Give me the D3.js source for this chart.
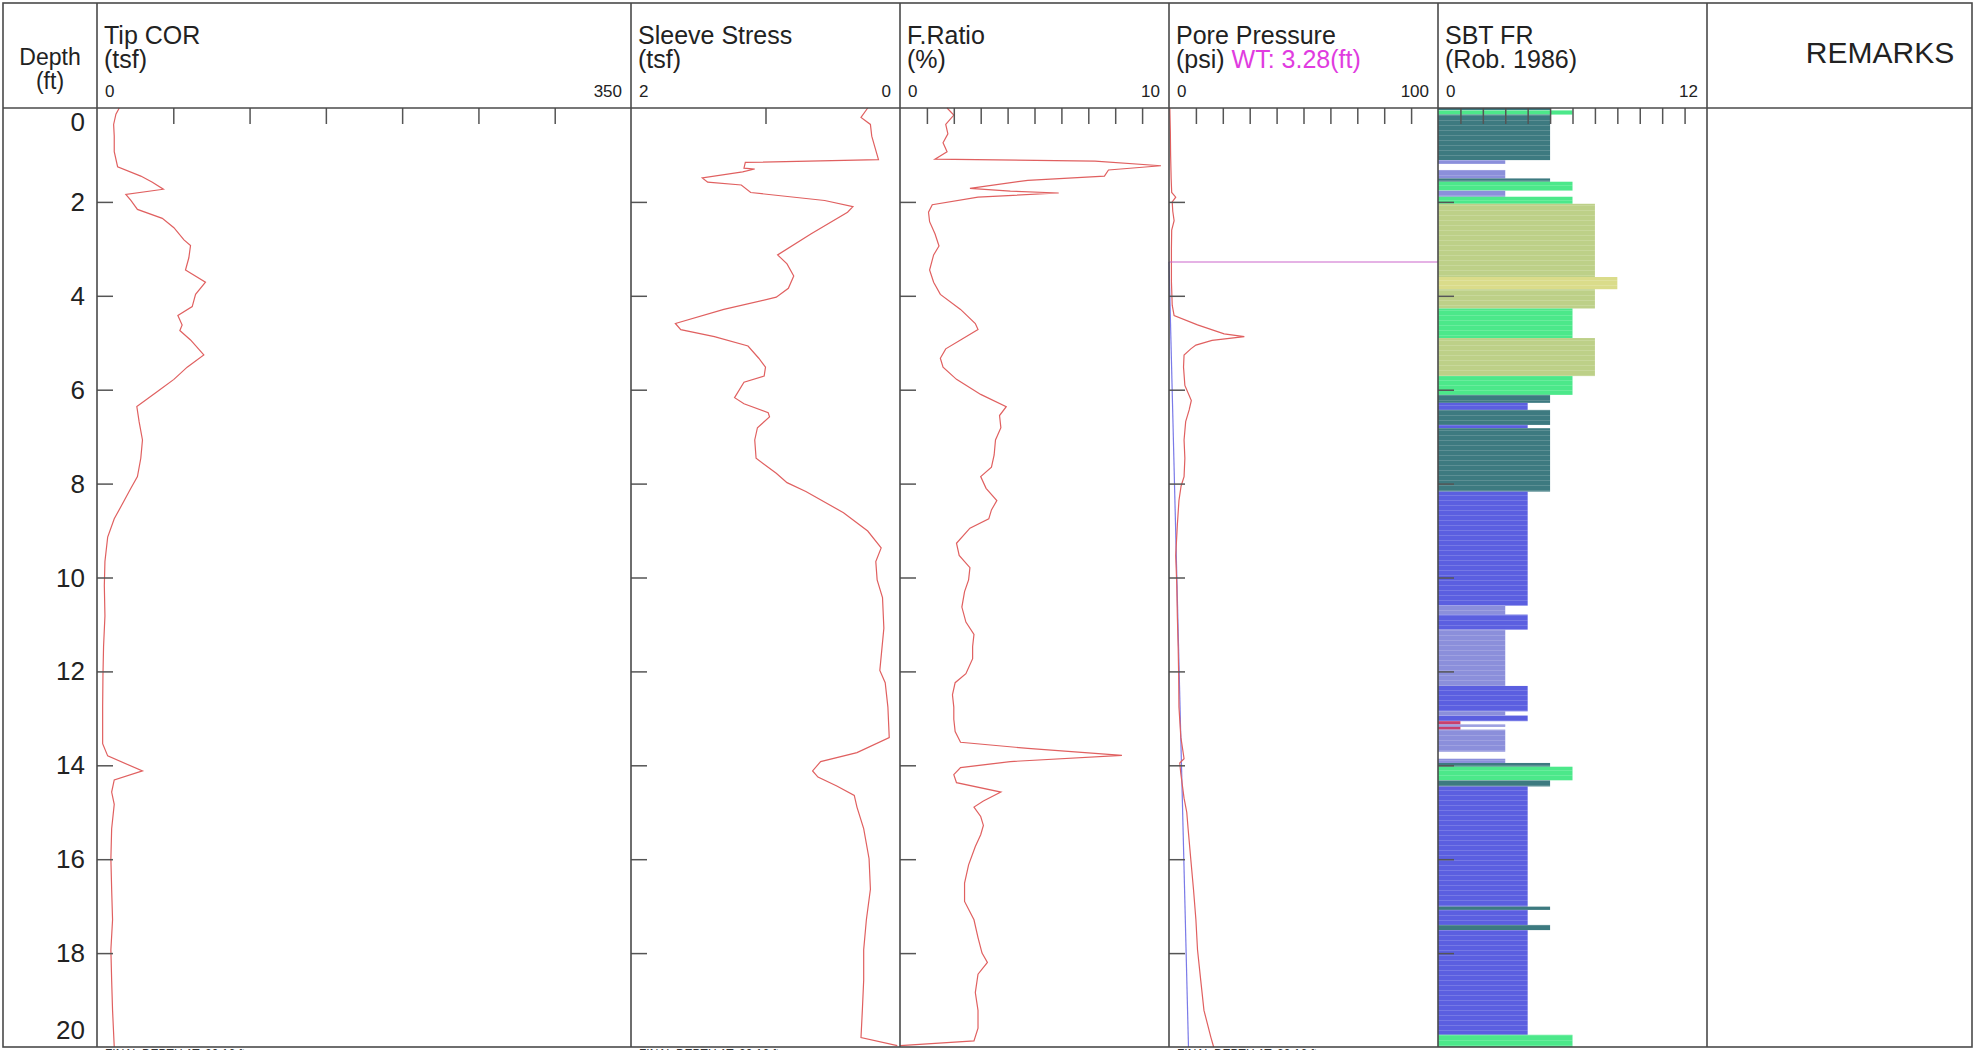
<!DOCTYPE html>
<html>
<head>
<meta charset="utf-8">
<script src="https://cdnjs.cloudflare.com/ajax/libs/d3/7.8.5/d3.min.js"></script>
<style>
body { margin: 0; background: #fff; }
svg text { font-family: "Liberation Sans", Arial, sans-serif; fill: #222; }
</style>
</head>
<body>
<div class="graph"></div>
<script>
// depth axis (ft)
var depthTicks = [0, 2, 4, 6, 8, 10, 12, 14, 16, 18, 20];

// Tip COR (tsf)
var tipDepth = [0, 0.13, 0.35, 0.6, 0.93, 1.25, 1.45, 1.58, 1.73, 1.84, 1.97, 2.16, 2.35, 2.55, 2.81, 2.93, 3.19, 3.45, 3.71, 3.97, 4.23, 4.42, 4.62, 4.74, 4.94, 5.26, 5.52, 5.78, 6.04, 6.36, 6.68, 7.07, 7.46, 7.85, 8.1, 8.43, 8.75, 9.14, 9.66, 10.17, 10.82, 11.47, 12.1, 12.76, 13.54, 13.8, 14.12, 14.31, 14.57, 14.83, 15.35, 15.99, 16.64, 17.29, 17.93, 18.58, 19.22, 20];
var tipCOR = [14.6, 12.4, 10.9, 11.3, 11.3, 13.5, 28.7, 36.3, 43.5, 18.9, 22.2, 26.5, 42.8, 50.4, 57, 61.3, 60.2, 58, 71.1, 64.6, 62.4, 53, 55.8, 54.3, 61.3, 70, 59.1, 50.4, 39.6, 26.1, 27.6, 29.8, 28.7, 26.5, 22.2, 16.7, 11.3, 7, 5.2, 4.8, 5.2, 4.3, 3.9, 3.7, 3.7, 7, 29.8, 11.3, 9.6, 11.3, 9.6, 9.1, 9.6, 10.2, 9.1, 9.6, 10.2, 11.3];

// Sleeve Stress (tsf)
var sleeveDepth = [0, 0.2, 0.35, 0.6, 0.8, 1.1, 1.16, 1.28, 1.3, 1.36, 1.49, 1.58, 1.64, 1.8, 1.97, 2.1, 2.22, 2.68, 3.13, 3.32, 3.58, 3.84, 4.03, 4.29, 4.59, 4.72, 4.87, 5.07, 5.33, 5.52, 5.71, 5.84, 6.17, 6.3, 6.49, 6.58, 6.81, 7.07, 7.46, 7.78, 7.98, 8.17, 8.62, 9.01, 9.37, 9.66, 10.05, 10.43, 11.08, 11.98, 12.24, 12.76, 13.41, 13.73, 13.92, 14.12, 14.25, 14.44, 14.64, 14.89, 15.35, 15.99, 16.64, 17.29, 17.93, 18.58, 19.22, 19.8, 19.97];
var sleeveStress = [0.24, 0.29, 0.22, 0.21, 0.19, 0.16, 1.15, 1.16, 1.08, 1.17, 1.47, 1.43, 1.18, 1.11, 0.56, 0.35, 0.39, 0.66, 0.91, 0.84, 0.79, 0.83, 0.92, 1.31, 1.67, 1.63, 1.38, 1.13, 1.05, 1.0, 1.01, 1.16, 1.23, 1.16, 0.98, 0.97, 1.06, 1.08, 1.07, 0.92, 0.84, 0.7, 0.42, 0.24, 0.14, 0.18, 0.17, 0.13, 0.12, 0.15, 0.11, 0.09, 0.08, 0.32, 0.59, 0.65, 0.61, 0.47, 0.34, 0.32, 0.27, 0.23, 0.22, 0.25, 0.27, 0.27, 0.28, 0.29, 0.02];

// F.Ratio (%)
var frDepth = [0, 0.15, 0.35, 0.55, 0.74, 0.93, 1.09, 1.13, 1.23, 1.32, 1.45, 1.54, 1.71, 1.77, 1.81, 1.9, 2.06, 2.22, 2.42, 2.68, 2.94, 3.13, 3.45, 3.71, 3.97, 4.29, 4.59, 4.72, 4.94, 5.13, 5.33, 5.52, 5.78, 6.1, 6.36, 6.55, 6.81, 7.07, 7.39, 7.65, 7.85, 8.1, 8.36, 8.56, 8.75, 8.95, 9.27, 9.53, 9.79, 10.05, 10.3, 10.63, 10.95, 11.21, 11.47, 11.73, 12.05, 12.24, 12.5, 12.76, 13.02, 13.28, 13.51, 13.64, 13.79, 13.92, 14.05, 14.2, 14.37, 14.57, 14.76, 14.89, 15.09, 15.28, 15.48, 15.73, 16.12, 16.51, 16.9, 17.29, 17.67, 18.0, 18.2, 18.45, 18.84, 19.22, 19.6, 19.87, 19.97];
var fRatio = [1.75, 2.0, 1.7, 1.78, 1.6, 1.75, 1.3, 7.25, 9.7, 7.75, 7.6, 4.75, 2.6, 4.1, 5.9, 2.9, 1.2, 1.06, 1.1, 1.3, 1.45, 1.25, 1.1, 1.25, 1.5, 2.25, 2.8, 2.9, 2.25, 1.7, 1.5, 1.6, 2.1, 3.0, 3.95, 3.7, 3.75, 3.55, 3.5, 3.4, 3.0, 3.2, 3.6, 3.4, 3.3, 2.6, 2.1, 2.2, 2.6, 2.55, 2.4, 2.3, 2.45, 2.75, 2.7, 2.7, 2.45, 2.05, 1.95, 2.0, 2.0, 2.05, 2.25, 4.75, 8.25, 4.1, 2.25, 2.0, 2.1, 3.75, 3.1, 2.75, 3.0, 3.1, 3.0, 2.8, 2.55, 2.4, 2.4, 2.75, 2.9, 3.05, 3.25, 2.9, 2.8, 2.9, 2.9, 2.75, 0];

// Pore Pressure (psi)
var poreDepth = [0, 0.5, 1.0, 1.5, 1.8, 1.9, 2.0, 2.2, 2.4, 2.6, 3.0, 3.7, 4.2, 4.42, 4.62, 4.81, 4.87, 4.95, 5.05, 5.13, 5.26, 5.52, 5.91, 6.23, 6.43, 6.68, 7.07, 7.46, 7.85, 8.05, 8.36, 8.88, 9.53, 10.17, 10.82, 11.47, 12.1, 12.76, 13.4, 13.86, 13.95, 14.18, 14.7, 15.0, 15.35, 16.0, 16.64, 17.29, 17.93, 18.58, 19.22, 19.8, 20];
var porePressure = [0.3, 0.5, 0.6, 0.8, 1.0, 2.5, 1.2, 1.4, 1.9, 1.0, 0.9, 0.9, 1.2, 1.9, 10.6, 20.5, 28, 16, 10, 8.1, 5.6, 5.4, 5.9, 8.3, 7.5, 6.2, 5.6, 5.9, 5.6, 4.5, 3.7, 3.1, 2.5, 2.9, 3.1, 3.4, 3.6, 3.7, 4.4, 5.6, 4.0, 4.4, 5.6, 6.6, 7.1, 8.1, 9.1, 10.0, 10.6, 11.8, 13.0, 15.6, 16.6];

// water table and hydrostatic line
var waterTable = 3.28;
var hydroDepth = [3.28, 20];
var hydroPsi = [0, 7.24];

// SBT FR (Robertson 1986) zones
var sbtTop    = [0, 0.05, 0.14, 1.11, 1.32, 1.5, 1.57, 1.76, 1.89, 2.04, 3.6, 3.86, 4.27, 4.9, 5.71, 6.11, 6.28, 6.43, 6.75, 6.82, 8.17, 10.6, 10.79, 11.11, 12.31, 12.85, 12.94, 13.06, 13.13, 13.18, 13.24, 13.86, 13.95, 14.03, 14.32, 14.45, 17.01, 17.08, 17.4, 17.51, 19.74];
var sbtBottom = [0.05, 0.14, 1.11, 1.19, 1.5, 1.57, 1.76, 1.89, 2.04, 3.6, 3.86, 4.27, 4.9, 5.71, 6.11, 6.28, 6.43, 6.75, 6.82, 8.17, 10.6, 10.79, 11.11, 12.31, 12.85, 12.94, 13.06, 13.13, 13.18, 13.24, 13.71, 13.95, 14.03, 14.32, 14.45, 17.01, 17.08, 17.4, 17.51, 19.74, 20];
var sbtZone   = [5, 6, 5, 3, 3, 5, 6, 3, 6, 7, 8, 7, 6, 7, 6, 5, 4, 5, 4, 5, 4, 3, 4, 3, 4, 3, 4, 1, 3, 1, 3, 3, 5, 6, 5, 4, 5, 4, 5, 4, 6];

var zoneColours = ["#ffffff", "#c8406e", "#a0783c", "#8b8fdb", "#5b5fe0", "#3d7a80", "#4ce88a", "#bdd088", "#dadc8a", "#e8c070", "#a0a0a0", "#808080", "#d0a080"];

var width = 1975, height = 1050;
var plotTop = 108, plotBottom = 1047;
var edges = [3, 97, 631, 900, 1169, 1438, 1707, 1972];

var tracks = [
	{ name: "Tip COR", unit: "(tsf)", dom: [0, 350], ticks: [50, 100, 150, 200, 250, 300], lo: "0", hi: "350" },
	{ name: "Sleeve Stress", unit: "(tsf)", dom: [2, 0], ticks: [1], lo: "2", hi: "0" },
	{ name: "F.Ratio", unit: "(%)", dom: [0, 10], ticks: d3.range(1, 10), lo: "0", hi: "10" },
	{ name: "Pore Pressure", unit: "(psi) ", dom: [0, 100], ticks: d3.range(10, 100, 10), lo: "0", hi: "100" },
	{ name: "SBT FR", unit: "(Rob. 1986)", dom: [0, 12], ticks: d3.range(1, 12), lo: "0", hi: "12" }
];

var svg = d3.select(".graph").append("svg").attr("width", width).attr("height", height);

var y = d3.scaleLinear().domain([0, 20]).range([plotTop, plotBottom]);

tracks.forEach(function (t, i) {
	t.x = d3.scaleLinear().domain(t.dom).range([edges[i + 1], edges[i + 2]]);
});

// row stripes seen in the SBT bars
var defs = svg.append("defs");
var pat = defs.append("pattern").attr("id", "rows").attr("patternUnits", "userSpaceOnUse").attr("width", 10).attr("height", 5);
pat.append("rect").attr("width", 10).attr("height", 1).style("fill", "#fff").style("opacity", 0.16);

// SBT bars
var sbt = tracks[4];
var sbtData = sbtZone.map(function (z, i) { return { z: z, t: sbtTop[i], b: sbtBottom[i] }; });
var bars = svg.append("g");
bars.selectAll("rect.zone").data(sbtData).enter().append("rect").attr("class", "zone")
	.attr("x", sbt.x(0))
	.attr("y", function (d) { return y(d.t); })
	.attr("width", function (d) { return sbt.x(d.z) - sbt.x(0); })
	.attr("height", function (d) { return y(d.b) - y(d.t); })
	.style("fill", function (d) { return zoneColours[d.z]; });
bars.selectAll("rect.rows").data(sbtData).enter().append("rect").attr("class", "rows")
	.attr("x", sbt.x(0))
	.attr("y", function (d) { return y(d.t); })
	.attr("width", function (d) { return sbt.x(d.z) - sbt.x(0); })
	.attr("height", function (d) { return y(d.b) - y(d.t); })
	.style("fill", "url(#rows)");

// curves
function curve(track, depths, vals, colour, w) {
	var pts = depths.map(function (d, i) { return [d, vals[i]]; });
	var line = d3.line().x(function (p) { return track.x(p[1]); }).y(function (p) { return y(p[0]); });
	svg.append("path").datum(pts).attr("d", line)
		.style("fill", "none").style("stroke", colour).style("stroke-width", w || 1.2);
}
curve(tracks[0], tipDepth, tipCOR, "#e06060");
curve(tracks[1], sleeveDepth, sleeveStress, "#e06060");
curve(tracks[2], frDepth, fRatio, "#e06060");
curve(tracks[3], hydroDepth, hydroPsi, "#7a7ae8", 1.2);
curve(tracks[3], poreDepth, porePressure, "#e06060");

// water table
svg.append("line")
	.attr("x1", tracks[3].x(0)).attr("x2", tracks[3].x(100))
	.attr("y1", y(waterTable)).attr("y2", y(waterTable))
	.style("stroke", "#cc66cc").style("stroke-width", 1.2);

// ticks
tracks.forEach(function (t, i) {
	var top = svg.append("g").attr("transform", "translate(0," + plotTop + ")")
		.call(d3.axisBottom(t.x).tickValues(t.ticks).tickSize(16).tickFormat(""));
	top.select(".domain").remove();
	top.selectAll("line").style("stroke", "#555").style("stroke-width", 1.5);

	var left = svg.append("g").attr("transform", "translate(" + edges[i + 1] + ",0)")
		.call(d3.axisRight(y).tickValues(depthTicks.slice(1, -1)).tickSize(16).tickFormat(""));
	left.select(".domain").remove();
	left.selectAll("line").style("stroke", "#555").style("stroke-width", 1.5);
});

// frame
var frame = svg.append("g").style("stroke", "#4a4a4a").style("stroke-width", 1.6).style("fill", "none");
frame.append("rect").attr("x", edges[0]).attr("y", 3).attr("width", edges[7] - edges[0]).attr("height", plotBottom - 3);
frame.append("line").attr("x1", edges[0]).attr("x2", edges[7]).attr("y1", plotTop).attr("y2", plotTop);
edges.slice(1, 7).forEach(function (e) {
	frame.append("line").attr("x1", e).attr("x2", e).attr("y1", 3).attr("y2", plotBottom);
});

// header texts
var hdr = svg.append("g");
hdr.append("text").attr("x", 50).attr("y", 65).attr("text-anchor", "middle").style("font-size", "23px").text("Depth");
hdr.append("text").attr("x", 50).attr("y", 89).attr("text-anchor", "middle").style("font-size", "23px").text("(ft)");
tracks.forEach(function (t, i) {
	var l = edges[i + 1], r = edges[i + 2];
	hdr.append("text").attr("x", l + 7).attr("y", 44).style("font-size", "25px").text(t.name);
	var u = hdr.append("text").attr("x", l + 7).attr("y", 68).style("font-size", "25px").text(t.unit);
	if (i == 3) u.append("tspan").style("fill", "#e03ce0").text("WT: " + waterTable + "(ft)");
	hdr.append("text").attr("x", l + 8).attr("y", 97).style("font-size", "17px").text(t.lo);
	hdr.append("text").attr("x", r - 9).attr("y", 97).attr("text-anchor", "end").style("font-size", "17px").text(t.hi);
});
hdr.append("text").attr("x", 1880).attr("y", 63).attr("text-anchor", "middle").style("font-size", "30px").text("REMARKS");

// depth labels
svg.selectAll("text.depth").data(depthTicks).enter().append("text").attr("class", "depth")
	.attr("x", 85)
	.attr("y", function (d) { return Math.min(Math.max(y(d), plotTop + 14), plotBottom - 17) + 9; })
	.attr("text-anchor", "end").style("font-size", "26px")
	.text(function (d) { return d; });

// final depth notes under the frame
[1, 2, 4].forEach(function (i) {
	svg.append("text").attr("x", edges[i] + 8).attr("y", 1058).style("font-size", "12px").style("fill", "#333")
		.text("FINAL DEPTH AT: 20.16 ft");
});
</script>
</body>
</html>
